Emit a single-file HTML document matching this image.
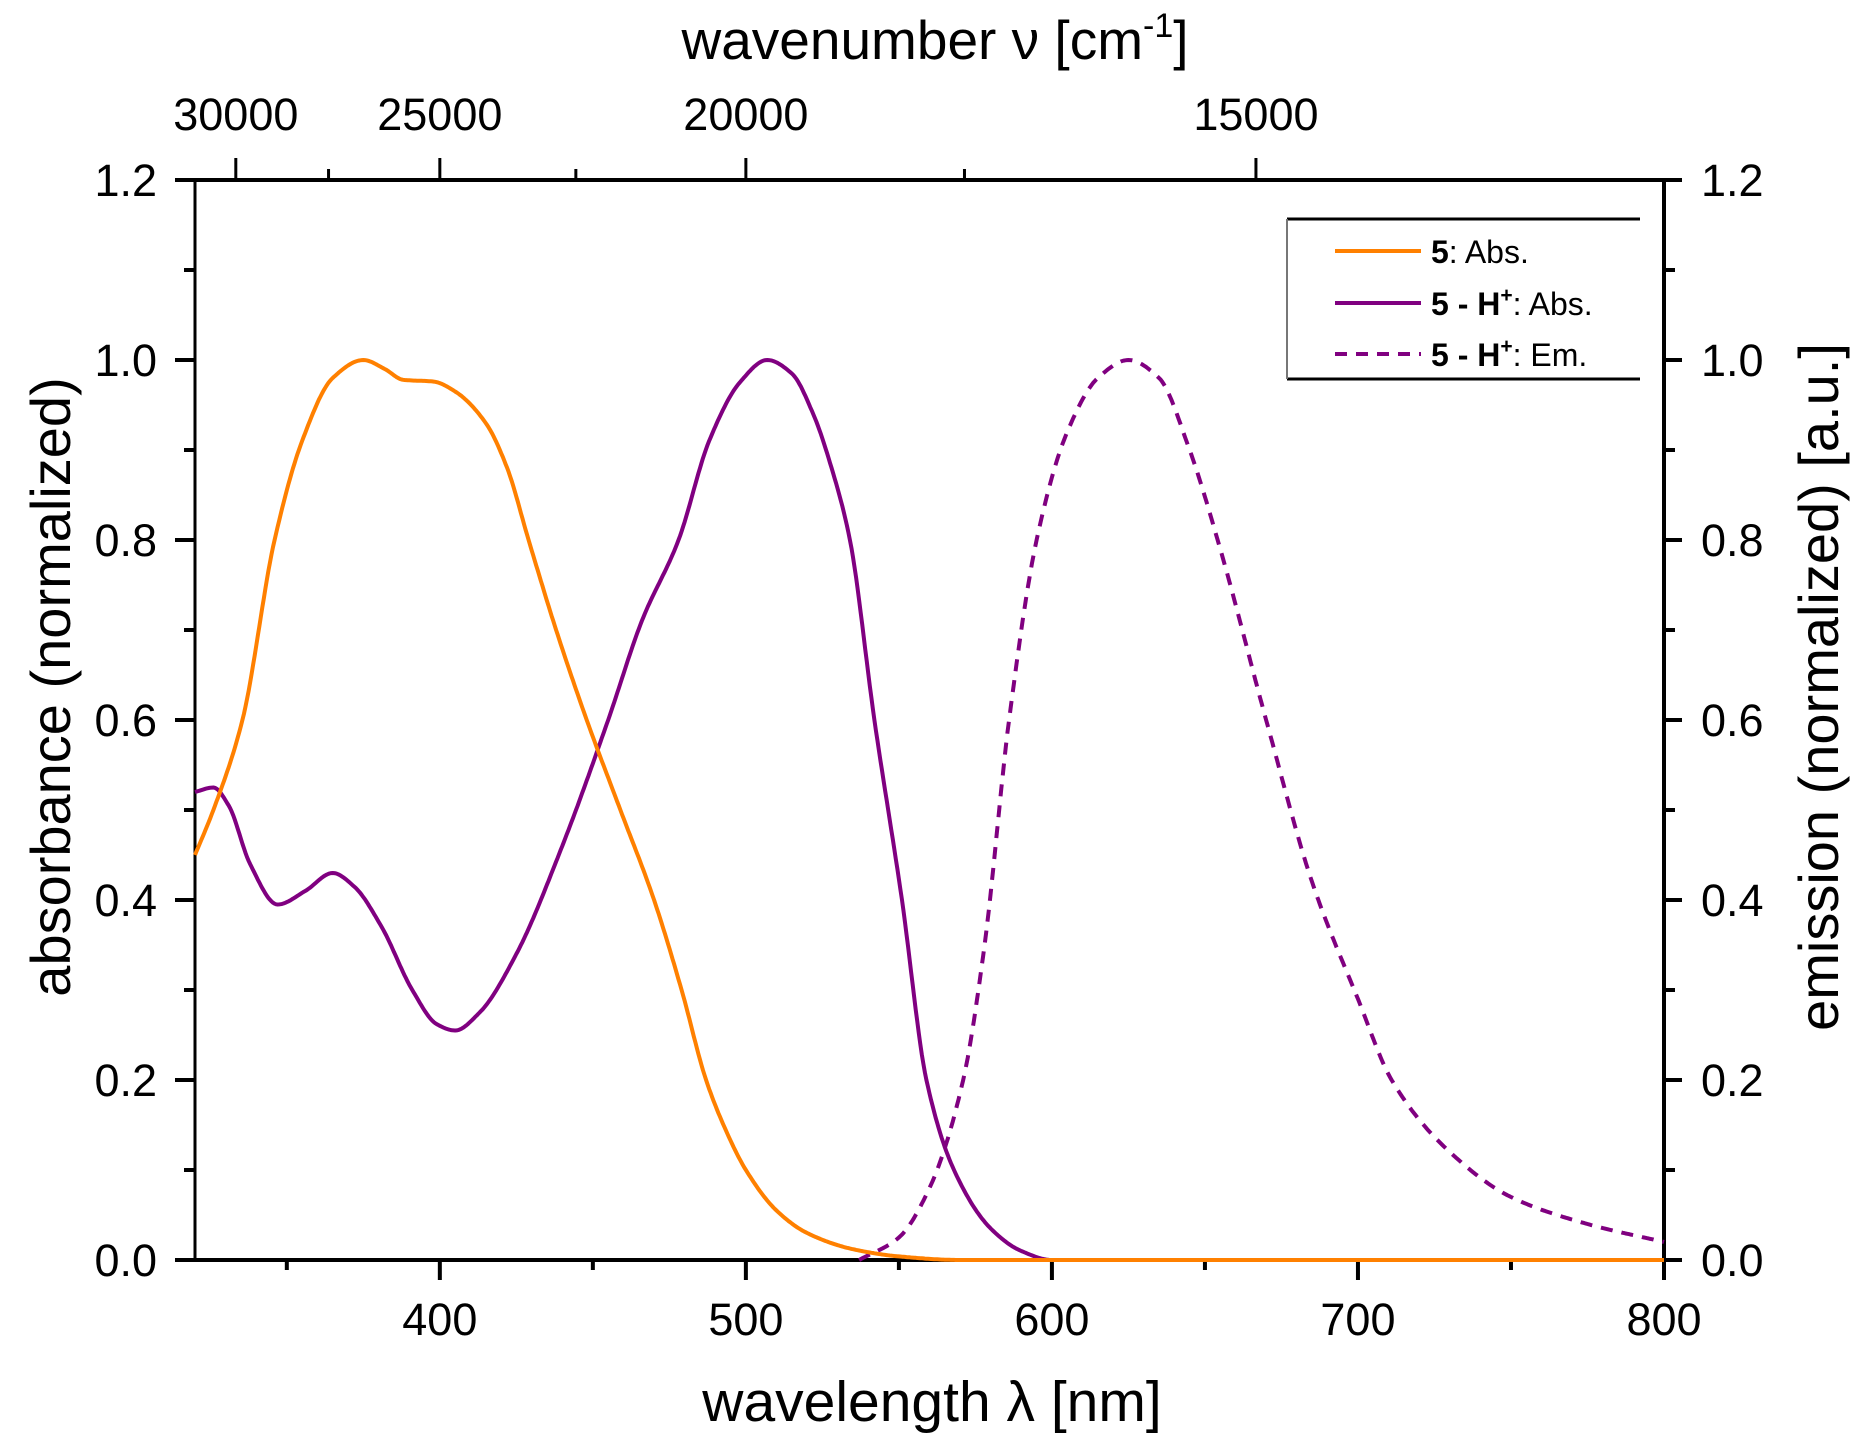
<!DOCTYPE html>
<html><head><meta charset="utf-8"><style>
html,body{margin:0;padding:0;background:#fff}
svg{display:block}
text{font-family:"Liberation Sans",sans-serif;fill:#000}
</style></head><body>
<svg id="s" width="1857" height="1446" viewBox="0 0 1857 1446" xmlns="http://www.w3.org/2000/svg">
<g id="ax" stroke="#000" fill="none"></g>
<g id="curves" fill="none" stroke-linejoin="round"></g>
<g id="labels" font-size="45"></g>
<text x="932" y="1421" font-size="57" text-anchor="middle">wavelength λ [nm]</text>
<text x="935" y="59" font-size="55" text-anchor="middle">wavenumber ν [cm<tspan font-size="34" dy="-22">-1</tspan><tspan dy="22">]</tspan></text>
<text transform="translate(70,687) rotate(-90)" font-size="56" text-anchor="middle">absorbance (normalized)</text>
<text transform="translate(1838,687) rotate(-90)" font-size="56" text-anchor="middle">emission (normalized) [a.u.]</text>
<line x1="1287" y1="219" x2="1640" y2="219" stroke="#000" stroke-width="3"/>
<line x1="1287" y1="379" x2="1640" y2="379" stroke="#000" stroke-width="3"/>
<line x1="1287" y1="219" x2="1287" y2="379" stroke="#777" stroke-width="2"/>
<line x1="1335" y1="251" x2="1421" y2="251" stroke="#ff8000" stroke-width="4"/>
<line x1="1335" y1="303" x2="1421" y2="303" stroke="#800080" stroke-width="4"/>
<line x1="1335" y1="354" x2="1421" y2="354" stroke="#800080" stroke-width="4" stroke-dasharray="12,9"/>
<text x="1431" y="263" font-size="32"><tspan font-weight="bold">5</tspan>: Abs.</text>
<text x="1431" y="315" font-size="32"><tspan font-weight="bold">5 - H<tspan font-size="21" dy="-13">+</tspan></tspan><tspan dy="13">: Abs.</tspan></text>
<text x="1431" y="366" font-size="32"><tspan font-weight="bold">5 - H<tspan font-size="21" dy="-13">+</tspan></tspan><tspan dy="13">: Em.</tspan></text>
</svg>
<script>
const L=195,R=1664,T=180,B=1260;
const X=l=>L+(l-320)/480*(R-L), Y=v=>B-v/1.2*(B-T);
const NS="http://www.w3.org/2000/svg";
function el(p,t,a,txt){const e=document.createElementNS(NS,t);for(const k in a)e.setAttribute(k,a[k]);if(txt!==undefined)e.textContent=txt;document.getElementById(p).appendChild(e);return e;}
el('ax','line',{x1:L,y1:T,x2:L,y2:B,'stroke-width':3});
el('ax','line',{x1:R,y1:T,x2:R,y2:B,'stroke-width':4});
el('ax','line',{x1:L-20,y1:B,x2:R,y2:B,'stroke-width':4});
el('ax','line',{x1:L-20,y1:T,x2:R+8,y2:T,'stroke-width':4});
for(let i=0;i<=12;i++){const y=Y(i/10),maj=i%2==0;
 el('ax','line',{x1:L-(maj?20:11),y1:y,x2:L,y2:y,'stroke-width':4});
 el('ax','line',{x1:R,y1:y,x2:R+(maj?18:11),y2:y,'stroke-width':4});
 if(maj){el('labels','text',{x:157,y:y+16,'text-anchor':'end'},(i/10).toFixed(1));
  el('labels','text',{x:1701,y:y+16},(i/10).toFixed(1));}}
for(let l=350;l<=800;l+=50){const x=X(l),maj=l%100==0;
 el('ax','line',{x1:x,y1:B,x2:x,y2:B+(maj?20:10),'stroke-width':4});
 if(maj)el('labels','text',{x:x,y:1335,'text-anchor':'middle'},l);}
[30000,27500,25000,22500,20000,17500,15000].forEach(w=>{const x=X(1e7/w),maj=w%5000==0;
 el('ax','line',{x1:x,y1:T,x2:x,y2:T-(maj?22:11),'stroke-width':3});
 if(maj)el('labels','text',{x:x,y:130,'text-anchor':'middle'},w);});
function mono(pts){const n=pts.length,xs=pts.map(p=>p[0]),ys=pts.map(p=>p[1]);
 const d=[],m=[];for(let i=0;i<n-1;i++)d.push((ys[i+1]-ys[i])/(xs[i+1]-xs[i]));
 m[0]=d[0];m[n-1]=d[n-2];
 for(let i=1;i<n-1;i++){if(d[i-1]*d[i]<=0)m[i]=0;else{const h0=xs[i]-xs[i-1],h1=xs[i+1]-xs[i];
  m[i]=3*(h0+h1)/((2*h1+h0)/d[i-1]+(h1+2*h0)/d[i]);}}
 return x=>{let i=0;while(i<n-2&&x>xs[i+1])i++;const h=xs[i+1]-xs[i],t=(x-xs[i])/h;
  const t2=t*t,t3=t2*t;return (2*t3-3*t2+1)*ys[i]+(t3-2*t2+t)*h*m[i]+(-2*t3+3*t2)*ys[i+1]+(t3-t2)*h*m[i+1];};}
function path(pts){const f=mono(pts),a=pts[0][0],b=pts[pts.length-1][0];let d='';
 for(let x=a;x<=b+1e-9;x+=0.5){d+=(d?'L':'M')+X(x).toFixed(1)+','+Y(Math.max(0,f(x))).toFixed(1);}return d;}
const orange=[[320,0.45],[326,0.5],[335.5,0.6],[346,0.8],[355,0.91],[365,0.98],[375,1.0],[382,0.99],[388,0.978],[398,0.976],[405,0.965],[415,0.93],[422,0.88],[429,0.8],[438,0.7],[448,0.6],[459,0.5],[470,0.4],[479,0.3],[487,0.2],[494,0.14],[500,0.1],[510,0.055],[520,0.03],[535,0.012],[550,0.004],[570,0.0],[800,0]];
const pabs=[[320,0.52],[326,0.525],[331,0.505],[338,0.44],[347,0.395],[356,0.41],[365,0.43],[372,0.415],[381,0.37],[391,0.3],[399,0.262],[405,0.255],[413,0.275],[425,0.34],[440,0.46],[455,0.6],[466,0.71],[478,0.8],[488,0.91],[498,0.975],[507,1.0],[515,0.985],[522,0.94],[528,0.88],[534,0.8],[542,0.6],[551,0.4],[559,0.2],[568,0.1],[580,0.035],[590,0.01],[600,0.0],[800,0]];
const em=[[537,0],[550,0.025],[560,0.08],[571,0.2],[578,0.35],[586,0.6],[595,0.8],[605,0.92],[615,0.98],[625,1.0],[635,0.98],[645,0.9],[655,0.79],[670,0.6],[685,0.42],[700,0.29],[711,0.2],[730,0.12],[750,0.07],[775,0.04],[800,0.02]];
el('curves','path',{d:path(pabs),stroke:'#800080','stroke-width':4});
el('curves','path',{d:path(em),stroke:'#800080','stroke-width':4,'stroke-dasharray':'12,9'});
el('curves','path',{d:path(orange),stroke:'#ff8000','stroke-width':4});
</script>
</body></html>
